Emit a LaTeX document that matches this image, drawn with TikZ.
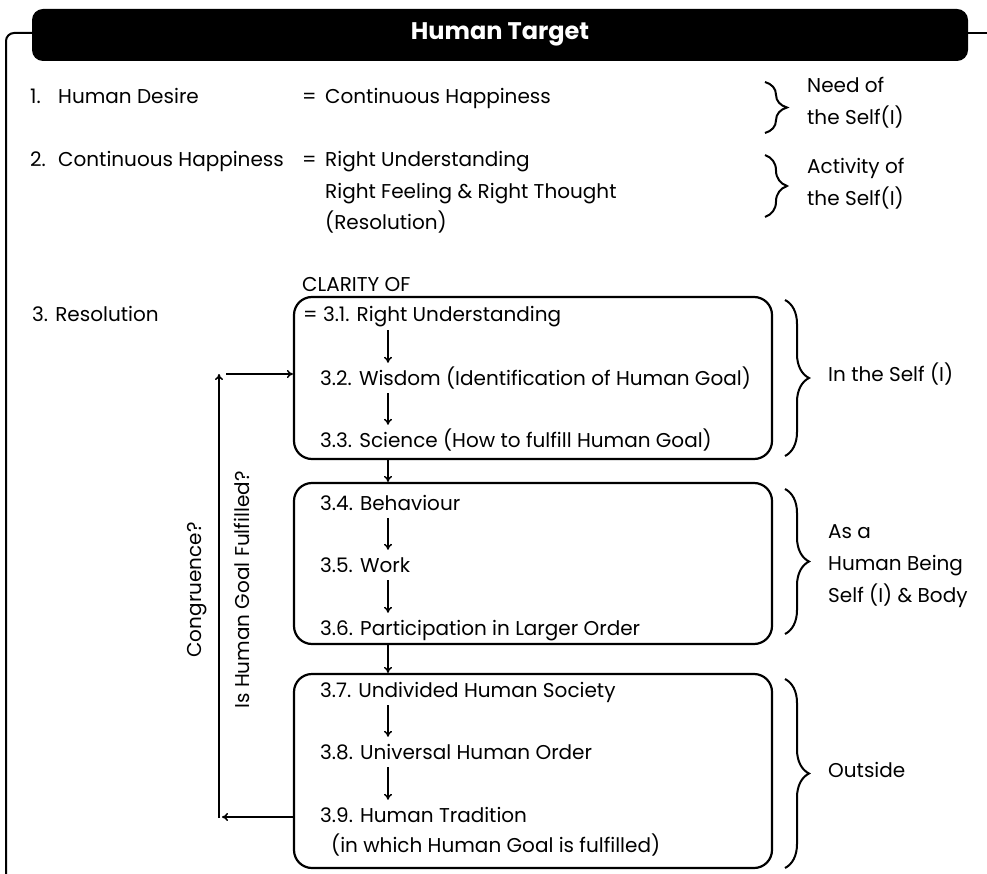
\documentclass[tikz,border=0pt]{standalone}
\usepackage{fontspec}
\setmainfont{Poppins}
\usetikzlibrary{arrows.meta,decorations.pathreplacing}
\begin{document}
\begin{tikzpicture}[x=1pt,y=-1pt,
  bodyfont/.style={font=\fontsize{20}{24}\selectfont},
  txt/.style={anchor=base west,inner sep=0pt,bodyfont},
  item/.style={anchor=base west,inner xsep=0pt,inner ysep=7pt,text height=15pt,text depth=1pt,bodyfont},
  panel/.style={draw,line width=2.2pt,rounded corners=18pt},
  arr/.style={line width=1.5pt,-{To[length=6pt,width=8pt]}},
  brc/.style={line width=2pt,decorate,decoration={brace,amplitude=#1,aspect=0.5}},
  brc/.default=24pt,
  vlab/.style={rotate=90,inner sep=0pt,bodyfont}]
\useasboundingbox (0,0) rectangle (987,874);

% title bar and outer frame
\node[fill=black,rounded corners=11pt,minimum width=936pt,minimum height=52pt,inner sep=0pt] (hdr) at (500,35) {};
\node[text=white,font=\fontsize{24}{28}\bfseries\selectfont] (title) at (500,34) {Human Target};
\draw[line width=2pt,rounded corners=8pt] (hdr.west |- 0,33) -- (6,33) -- (6,880);
\draw[line width=2pt] (hdr.east |- 0,33) -- (990,33);

% statements 1 and 2
\node[txt] (l1) at (30,104) {\makebox[28pt][l]{1.}Human Desire};
\node[txt] (e1) at (302,104) {\makebox[23pt][l]{=}Continuous Happiness};
\node[txt] (l2) at (30,167) {\makebox[28pt][l]{2.}Continuous Happiness};
\node[txt] (e2) at (302,167) {\makebox[23pt][l]{=}Right Understanding};
\node[txt] (e2b) at (325,199) {Right Feeling \& Right Thought};
\node[txt] (e2c) at (325,230) {(Resolution)};

\draw[brc=22pt] (765,82) -- (765,133);
\node[txt] (s1a) at (807,93) {Need of};
\node[txt] (s1b) at (807,125) {the Self(I)};
\draw[brc=22pt] (765,155) -- (765,217);
\node[txt] (s2a) at (807,174) {Activity of};
\node[txt] (s2b) at (807,206) {the Self(I)};

% statement 3
\node[txt] (clar) at (302,292) {CLARITY OF};
\node[txt] (l3) at (32,322) {3. Resolution};

\node[panel,minimum width=478pt,minimum height=162pt] (box1) at (533,378) {};
\node[panel,minimum width=478pt,minimum height=161pt] (box2) at (533,563.5) {};
\node[panel,minimum width=478pt,minimum height=194pt] (box3) at (533,771) {};

\coordinate (ax) at (388,0);

\node[item] (n31) at (303,322) {= 3.1. Right Understanding};
\node[item] (n32) at (320,385) {3.2. Wisdom (Identification of Human Goal)};
\node[item] (n33) at (320,447) {3.3. Science (How to fulfill Human Goal)};
\node[item] (n34) at (320,510) {3.4. Behaviour};
\node[item] (n35) at (320,572) {3.5. Work};
\node[item] (n36) at (320,635) {3.6. Participation in Larger Order};
\node[item] (n37) at (320,697) {3.7. Undivided Human Society};
\node[item] (n38) at (320,759) {3.8. Universal Human Order};
\node[item] (n39) at (320,822) {3.9. Human Tradition};
\node[txt] (n39b) at (331,852) {(in which Human Goal is fulfilled)};

\draw[arr] (ax |- n31.south) -- (ax |- n32.north);
\draw[arr] (ax |- n32.south) -- (ax |- n33.north);
\draw[arr] (ax |- box1.south) -- (ax |- box2.north);
\draw[arr] (ax |- n34.south) -- (ax |- n35.north);
\draw[arr] (ax |- n35.south) -- (ax |- n36.north);
\draw[arr] (ax |- box2.south) -- (ax |- box3.north);
\draw[arr] (ax |- n37.south) -- (ax |- n38.north);
\draw[arr] (ax |- n38.south) -- (ax |- n39.north);

% side braces
\draw[brc] (785,300) -- (785,456);
\node[txt] (s3) at (828,381) {In the Self (I)};
\draw[brc] (785,489) -- (785,634);
\node[txt] (s4a) at (828,538) {As a};
\node[txt] (s4b) at (828,570) {Human Being};
\node[txt] (s4c) at (828,602) {Self (I) \& Body};
\draw[brc] (785,679) -- (785,868);
\node[txt] (s5) at (828,777) {Outside};

% feedback loop
\coordinate (fbBot) at (219,818);
\coordinate (fbTop) at (219,374);
\coordinate (fbIn) at (226,374);
\draw[arr] (box3.west |- 0,817) -- (222,817);
\draw[arr] (fbBot) -- (fbTop);
\draw[arr] (fbIn) -- (box1.west |- fbIn);
\node[vlab] (cong) at (197,590) {Congruence?};
\node[vlab] (goal) at (242,590) {Is Human Goal Fulfilled?};
\end{tikzpicture}
\end{document}
